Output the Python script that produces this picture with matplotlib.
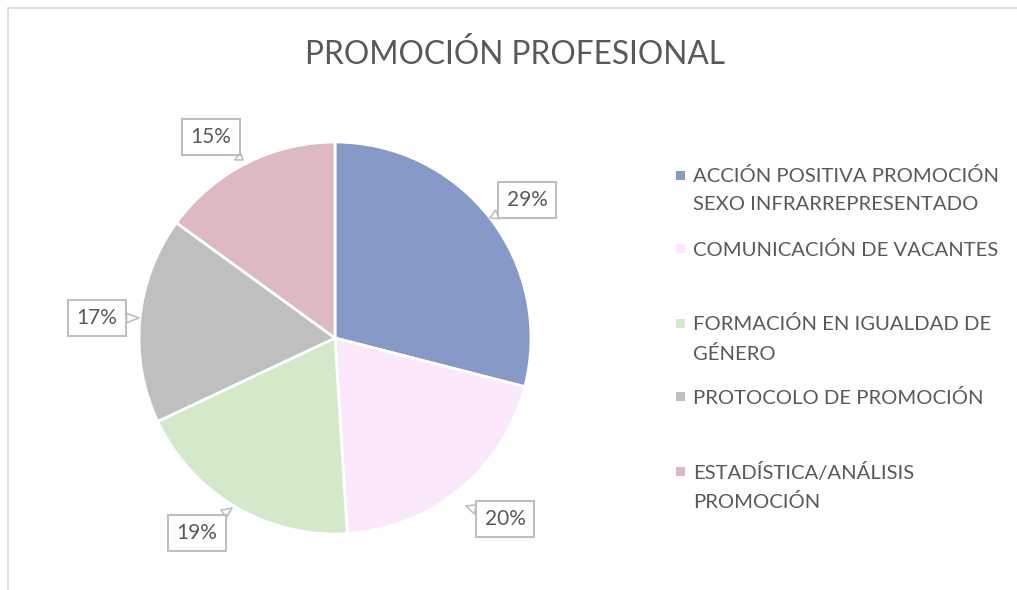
import matplotlib
matplotlib.use("Agg")
import matplotlib.pyplot as plt
from matplotlib.patches import Rectangle

plt.rcParams['font.family'] = ['Lato', 'DejaVu Sans']

title = "PROMOCIÓN PROFESIONAL"
categories = [
    "ACCIÓN POSITIVA PROMOCIÓN\nSEXO INFRARREPRESENTADO",
    "COMUNICACIÓN DE VACANTES",
    "FORMACIÓN EN IGUALDAD DE\nGÉNERO",
    "PROTOCOLO DE PROMOCIÓN",
    "ESTADÍSTICA/ANÁLISIS\nPROMOCIÓN",
]
values = [29, 20, 19, 17, 15]
colors = ["#8799C6", "#FCE8FC", "#D4E8CA", "#BFBFBF", "#DDB9C1"]

W, H = 1017, 590
fig = plt.figure(figsize=(W / 100, H / 100), dpi=100)
TXT = "#595959"

# chart frame
fig.patches.append(Rectangle((8 / W, -0.05), 1.1, 1 - 8 / H + 0.05, transform=fig.transFigure,
                             fill=False, edgecolor="#D9D9D9", lw=1.2))

cx, cy, r = 335, 338, 196
ax = fig.add_axes([(cx - r) / W, (H - cy - r) / H, 2 * r / W, 2 * r / H])
wedges, _ = ax.pie(values, colors=colors, startangle=90, counterclock=False, radius=1,
                   wedgeprops=dict(edgecolor="white", linewidth=2.0))
ax.set_xlim(-1, 1)
ax.set_ylim(-1, 1)
ax.set_aspect('equal')
ax.axis('off')

def d(px, py):
    return ((px - cx) / r, (cy - py) / r)

label_pos = [(527, 200), (505, 519), (197, 533), (97, 318), (211, 137)]
tip_pos = [(490, 218), (466, 506), (232, 508), (139, 318), (243, 160)]
for v, lp, tp in zip(values, label_pos, tip_pos):
    ax.annotate(f"{v}%", xy=d(*tp), xytext=d(*lp), ha='center', va='center',
                fontsize=15, color=TXT, annotation_clip=False,
                bbox=dict(boxstyle='square,pad=0.4', fc='white', ec='#BFBFBF', lw=1.5),
                arrowprops=dict(arrowstyle='wedge,tail_width=0.45,shrink_factor=0.5', fc='white',
                                ec='#BFBFBF', lw=1.2, shrinkA=0, shrinkB=0))

fig.text(515 / W, 1 - 54 / H, title, ha='center', va='center', fontsize=22.8, color=TXT)

# legend
line_y = [[175, 203], [248], [323, 352], [396], [471, 500]]
for c, lab, ys in zip(colors, categories, line_y):
    fig.patches.append(Rectangle(((680 - 4.5) / W, 1 - (ys[0] + 4.5) / H), 9 / W, 9 / H,
                                 transform=fig.transFigure, fc=c, ec='none'))
    for line, y in zip(lab.split("\n"), ys):
        fig.text(693 / W, 1 - y / H, line, ha='left', va='center_baseline', fontsize=14.6, color=TXT)

fig.savefig("out.png", dpi=100)
